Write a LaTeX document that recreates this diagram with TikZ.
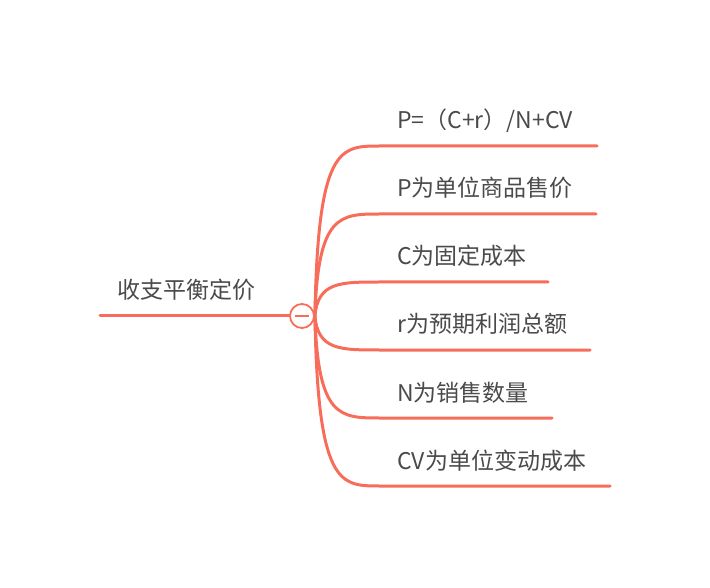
\documentclass[tikz,border=0pt]{standalone}
\usepackage{fontspec}
\setmainfont{Noto Sans CJK SC}
\definecolor{branch}{HTML}{F76D5A}
\definecolor{txt}{HTML}{4A4A4A}
\begin{document}
\begin{tikzpicture}[x=1pt,y=-1pt,
    leaf/.style={anchor=base west, text=txt, font=\fontsize{23}{26}\selectfont, inner sep=0pt},
    link/.style={draw=branch, line width=3pt, line cap=round}
]
    \useasboundingbox (0,0) rectangle (710,588);
    \node[leaf] (root) at (117,299) {收支平衡定价};
    \node[circle, draw=branch, fill=white, line width=1.8pt, minimum size=24pt, inner sep=0pt] (hub) at (302,316) {};
    \coordinate (rootend) at (100,316);
    \draw[link] (rootend) -- (hub.west);

    \node[leaf] (formula) at (397,129) {P=（C+r）/N+CV};
    \node[leaf] (price) at (397,197) {P为单位商品售价};
    \node[leaf] (fixed) at (397,265) {C为固定成本};
    \node[leaf] (profit) at (397,333) {r为预期利润总额};
    \node[leaf] (volume) at (397,401) {N为销售数量};
    \node[leaf] (varcost) at (397,469) {CV为单位变动成本};

    \foreach \y/\e in {146/597,214/596,282/548,350/590,418/552,486/610} {
        \draw[link] (hub.east) .. controls (318,\y) and (340,\y) .. (380,\y) -- (\e,\y);
    }
    \draw[branch, line width=1.8pt] (295,316) -- (309,316);
\end{tikzpicture}
\end{document}
